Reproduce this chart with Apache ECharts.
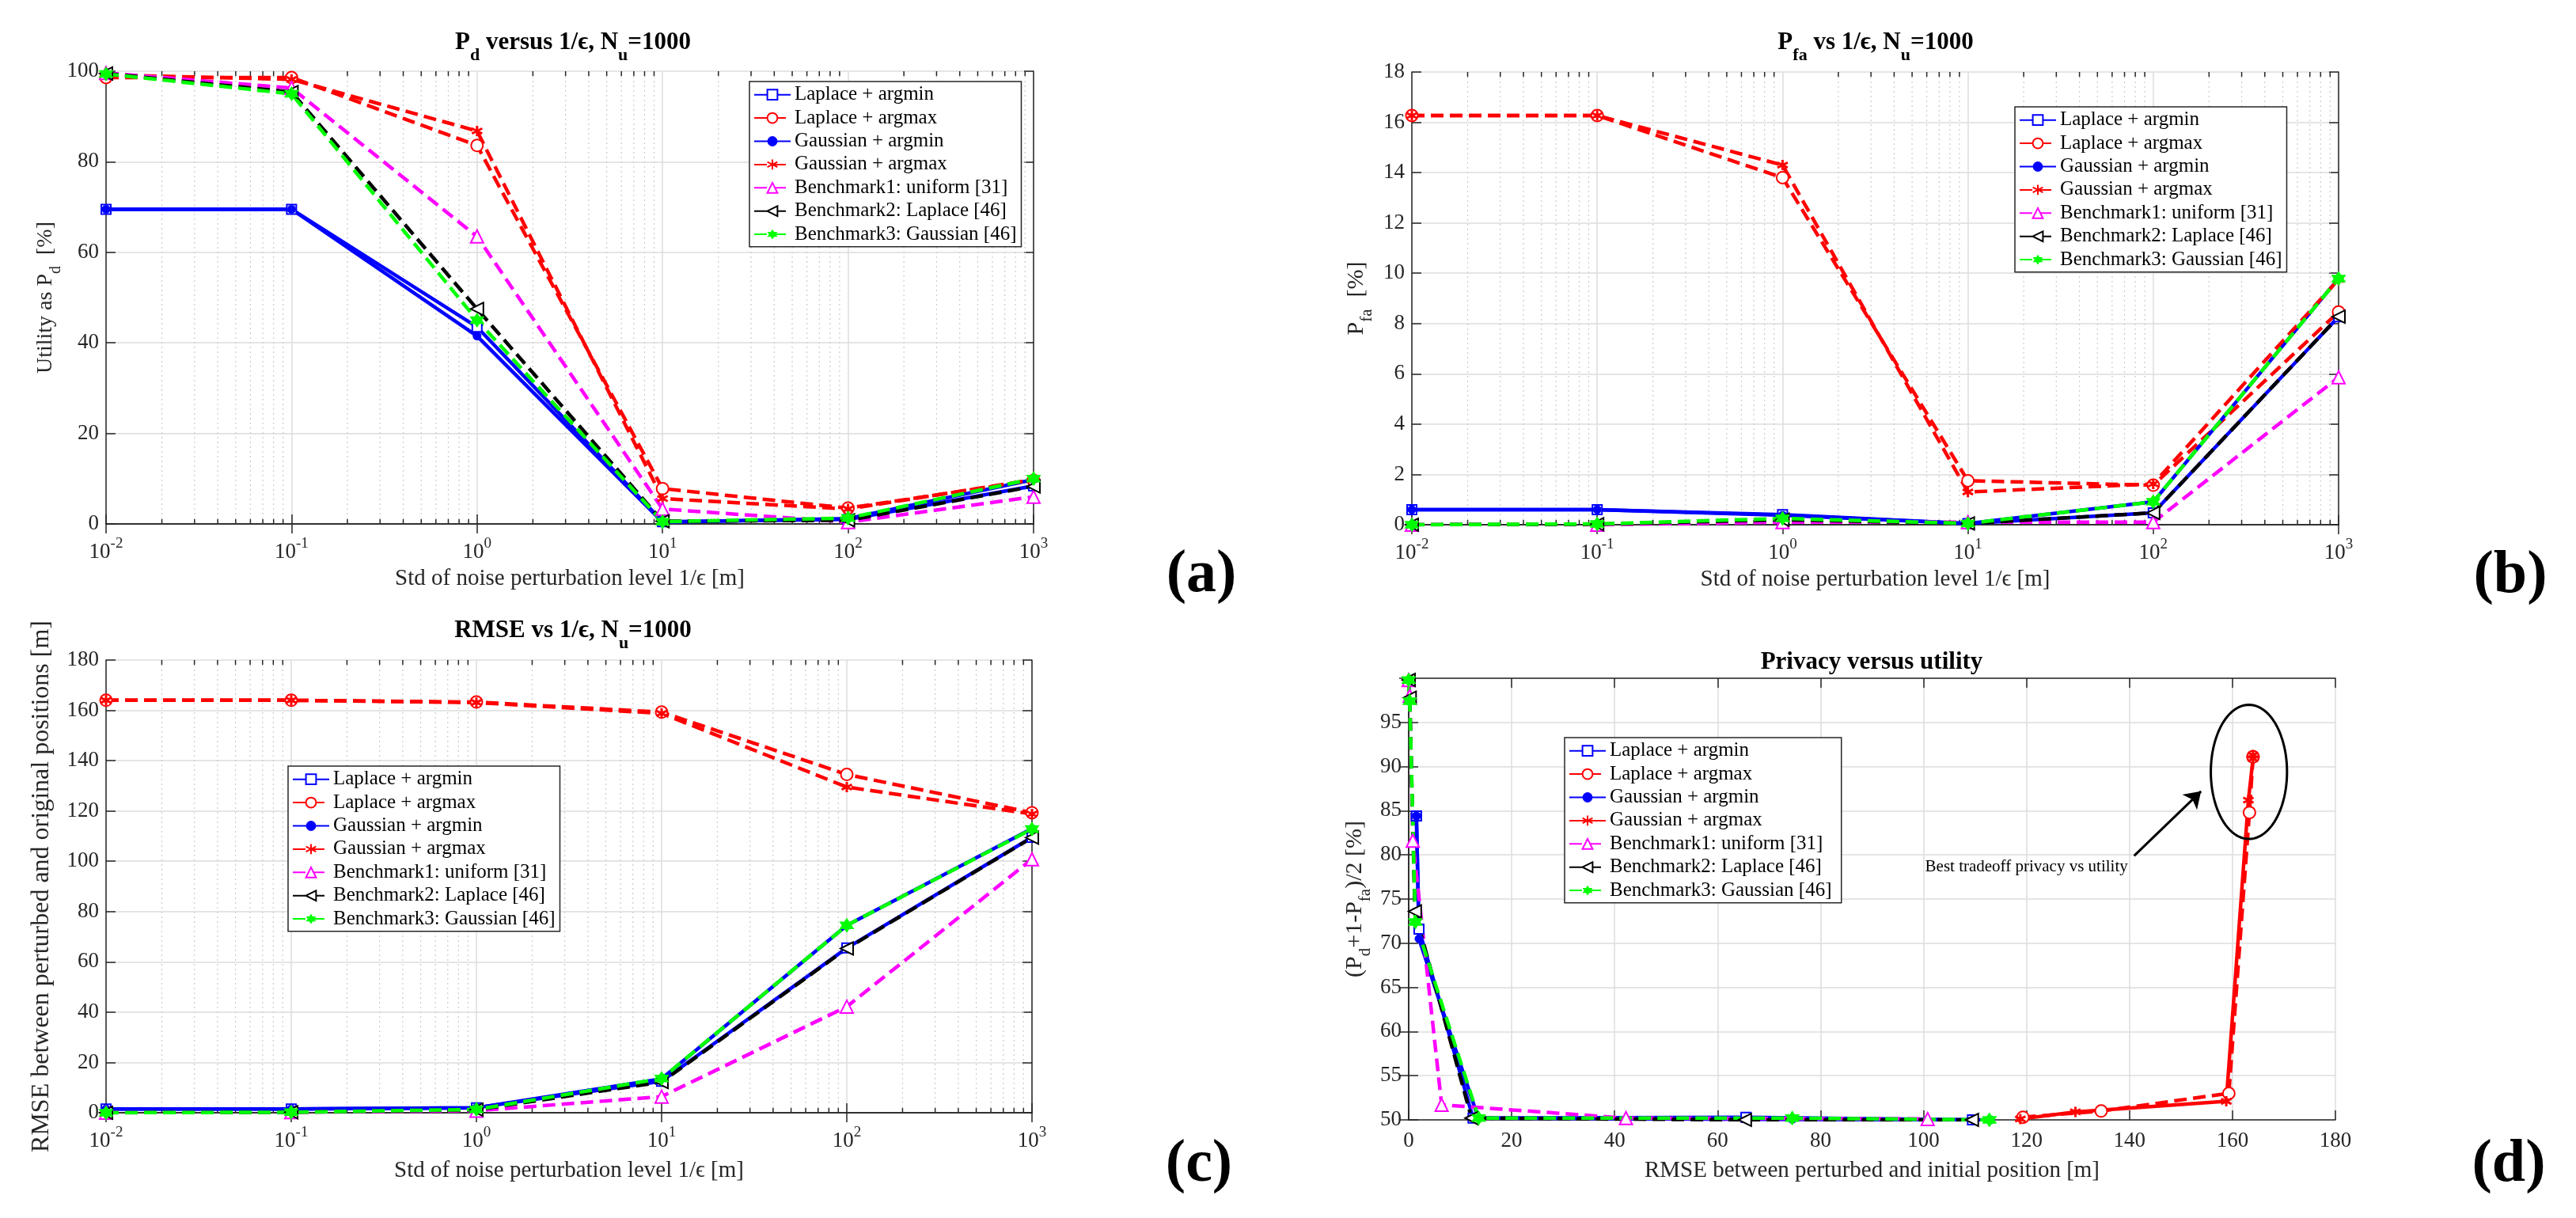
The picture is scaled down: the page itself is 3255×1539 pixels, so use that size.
<!DOCTYPE html>
<html>
<head>
<meta charset="utf-8">
<script src="https://cdn.jsdelivr.net/npm/echarts@6/dist/echarts.min.js"></script>
<style>
  html, body { margin: 0; padding: 0; background: #fff; }
  #chart { width: 3255px; height: 1539px; }
</style>
</head>
<body>
<div id="chart"></div>
<script>
// noise std levels 1/eps [m]
const noise = [0.01, 0.1, 1, 10, 100, 1000]
const names = [
  'Laplace + argmin', 'Laplace + argmax', 'Gaussian + argmin', 'Gaussian + argmax',
  'Benchmark1: uniform [31]', 'Benchmark2: Laplace [46]', 'Benchmark3: Gaussian [46]'
]

// (a) Pd [%]
const pdLapMin = [69.5, 69.5, 43.5, 0.5, 1.0, 8.4]
const pdLapMax = [98.6, 98.6, 83.6, 7.8, 3.5, 9.6]
const pdGauMin = [69.5, 69.5, 41.5, 0.4, 1.2, 9.8]
const pdGauMax = [99.2, 98.2, 86.8, 5.6, 3.3, 9.8]
const pdBm1 = [99.6, 96.3, 63.5, 3.3, 0.4, 6.0]
const pdBm2 = [99.5, 95.4, 47.5, 0.6, 0.8, 8.3]
const pdBm3 = [99.4, 95.0, 45.0, 0.5, 1.3, 10.0]

// (b) Pfa [%]
const pfaLapMin = [0.6, 0.6, 0.4, 0.05, 0.47, 8.27]
const pfaLapMax = [16.27, 16.27, 13.8, 1.75, 1.57, 8.46]
const pfaGauMin = [0.6, 0.6, 0.38, 0.05, 0.91, 9.79]
const pfaGauMax = [16.27, 16.27, 14.3, 1.3, 1.62, 9.75]
const pfaBm1 = [0, 0, 0.1, 0.1, 0.1, 5.86]
const pfaBm2 = [0, 0.02, 0.2, 0.05, 0.47, 8.27]
const pfaBm3 = [0, 0.03, 0.25, 0.05, 0.91, 9.79]

// (c) RMSE [m]
const rmseLapMin = [1.5, 1.5, 2.0, 12.5, 65.5, 109.5]
const rmseLapMax = [164, 164, 163.3, 159.3, 134.5, 119.3]
const rmseGauMin = [1.5, 1.5, 2.0, 13.5, 74.5, 113]
const rmseGauMax = [164, 164, 163.1, 158.8, 129.5, 118.8]
const rmseBm1 = [0, 0.2, 0.8, 6.4, 42.2, 100.8]
const rmseBm2 = [0, 0.2, 1.2, 12.2, 65.3, 109.4]
const rmseBm3 = [0, 0.2, 1.3, 13.6, 74.5, 112.8]

// (d) (Pd+1-Pfa)/2 [%], plotted against the RMSE values above
const utLapMin = [84.4, 84.4, 71.6, 50.2, 50.3, 50.0]
const utLapMax = [91.1, 91.1, 84.8, 53.0, 51.0, 50.3]
const utGauMin = [84.4, 84.4, 70.5, 50.2, 50.05, 50.0]
const utGauMax = [91.3, 90.9, 86.2, 52.1, 50.9, 50.1]
const utBm1 = [99.8, 98.0, 81.6, 51.7, 50.2, 50.1]
const utBm2 = [99.8, 97.8, 73.6, 50.2, 50.0, 50.0]
const utBm3 = [99.8, 97.4, 72.4, 50.2, 50.2, 50.0]

const decadeTicks = [0.01, 0.1, 1, 10, 100]

const FONT = 'Liberation Serif'
const INK = '#262626'
const ASTERISK = 'path://M0,-10L0,10M-8.66,-5L8.66,5M-8.66,5L8.66,-5'
const HEXAGRAM = 'path://M0,-10L8.66,5L-8.66,5ZM0,10L-8.66,-5L8.66,-5Z'
const DASH = [16, 8]

const looks = [
  { color: '#0000ff', dash: 'solid', symbol: 'emptyRect', size: 12 },
  { color: '#ff0000', dash: DASH, symbol: 'emptyCircle', size: 15 },
  { color: '#0000ff', dash: 'solid', symbol: 'circle', size: 11 },
  { color: '#ff0000', dash: DASH, symbol: ASTERISK, size: 13, stroke: true },
  { color: '#ff00ff', dash: DASH, symbol: 'emptyTriangle', size: 16 },
  { color: '#000000', dash: DASH, symbol: 'emptyTriangle', size: 16, rotate: 90 },
  { color: '#00ff00', dash: DASH, symbol: HEXAGRAM, size: 19 }
]

const grids = [
  { left: 134, top: 90, width: 1172, height: 572 },
  { left: 1784, top: 91, width: 1171, height: 572 },
  { left: 134, top: 834, width: 1170, height: 572 },
  { left: 1780, top: 857, width: 1171, height: 558 }
]

const pair = (xs, ys) => xs.map((x, i) => [x, ys[i]])

function lineSeries(p, k, xs, ys, nameSuffix, dashOverride) {
  const lk = looks[k]
  return {
    type: 'line',
    name: names[k] + (nameSuffix || ''),
    xAxisIndex: 2 * p,
    yAxisIndex: 2 * p,
    data: pair(xs, ys),
    symbol: lk.symbol,
    symbolSize: lk.size,
    symbolRotate: lk.rotate || 0,
    showSymbol: true,
    lineStyle: { color: lk.color, width: 4.5, type: dashOverride || lk.dash },
    itemStyle: {
      color: lk.color,
      borderColor: lk.color,
      borderWidth: (lk.stroke || lk.symbol.indexOf('empty') === 0) ? 3 : 0
    },
    z: 3
  }
}

const axisLineStyle = { color: INK, width: 1.5 }

function logAxes(p, nameGap) {
  return [
    {
      type: 'log', logBase: 10, min: 0.01, max: 1000, gridIndex: p, position: 'bottom',
      axisLine: { lineStyle: axisLineStyle },
      axisTick: { inside: true, length: 12, lineStyle: axisLineStyle },
      splitLine: { show: true, lineStyle: { color: '#dcdcdc', width: 1.5 } },
      axisLabel: {
        margin: 16,
        formatter: v => '{b|10}{s|' + Math.round(Math.log10(v)) + '}',
        rich: {
          b: { fontFamily: FONT, fontSize: 27, color: INK, verticalAlign: 'bottom' },
          s: { fontFamily: FONT, fontSize: 19, color: INK, verticalAlign: 'bottom', padding: [0, 0, 14, 0] }
        }
      },
      name: 'Std of noise perturbation level 1/ϵ [m]',
      nameLocation: 'middle', nameGap: nameGap,
      nameTextStyle: { fontFamily: FONT, fontSize: 29, color: INK }
    },
    {
      type: 'log', logBase: 10, min: 0.01, max: 1000, gridIndex: p, position: 'top',
      axisLine: { lineStyle: axisLineStyle },
      axisTick: { inside: true, length: 12, lineStyle: axisLineStyle },
      axisLabel: { show: false }, splitLine: { show: false }
    }
  ]
}

function valueYAxes(p, min, max, interval, name, nameGap, nameSize, hideMax) {
  return [
    {
      type: 'value', min: min, max: max, interval: interval, gridIndex: p, position: 'left',
      axisLine: { show: true, lineStyle: axisLineStyle },
      axisTick: { show: true, inside: true, length: 12, lineStyle: axisLineStyle },
      splitLine: { show: true, lineStyle: { color: '#dcdcdc', width: 1.5 } },
      axisLabel: { margin: 9, fontFamily: FONT, fontSize: 27, color: INK, showMaxLabel: !hideMax },
      name: name, nameLocation: 'middle', nameRotate: 90, nameGap: nameGap,
      nameTextStyle: {
        fontFamily: FONT, fontSize: nameSize, color: INK,
        rich: {
          m: { fontFamily: FONT, fontSize: nameSize, color: INK, verticalAlign: 'bottom', padding: [0, 0, 9, 0] },
          sub: { fontFamily: FONT, fontSize: Math.round(nameSize * 0.7), color: INK, verticalAlign: 'bottom' }
        }
      }
    },
    {
      type: 'value', min: min, max: max, interval: interval, gridIndex: p, position: 'right',
      axisLine: { show: true, lineStyle: axisLineStyle },
      axisTick: { show: true, inside: true, length: 12, lineStyle: axisLineStyle },
      axisLabel: { show: false }, splitLine: { show: false }
    }
  ]
}

// minor decades grid (2..9 x 10^k) drawn through the log axis
const minorVals = []
decadeTicks.forEach(d => { for (let k = 2; k <= 9; k++) minorVals.push(d * k) })

function minorSeries(p, yBase) {
  return {
    type: 'custom',
    xAxisIndex: 2 * p, yAxisIndex: 2 * p,
    silent: true, z: 1,
    data: minorVals.map(v => [v, yBase]),
    renderItem: (params, api) => {
      const x = api.coord([api.value(0), api.value(1)])[0]
      const cs = params.coordSys
      const b = cs.y + cs.height
      return {
        type: 'group',
        children: [
          { type: 'line', shape: { x1: x, y1: cs.y, x2: x, y2: b }, style: { stroke: '#cccccc', lineWidth: 1.2, lineDash: [2, 4] } },
          { type: 'line', shape: { x1: x, y1: b, x2: x, y2: b - 6 }, style: { stroke: INK, lineWidth: 1.5 } },
          { type: 'line', shape: { x1: x, y1: cs.y, x2: x, y2: cs.y + 6 }, style: { stroke: INK, lineWidth: 1.5 } }
        ]
      }
    }
  }
}

function legendAt(left, top, suffix) {
  return {
    orient: 'vertical', left: left, top: top,
    data: names.map(n => n + (suffix || '')),
    itemWidth: 46, itemHeight: 16, itemGap: 4,
    padding: [4, 6, 3, 5],
    borderColor: INK, borderWidth: 1.5, backgroundColor: '#ffffff',
    textStyle: { fontFamily: FONT, fontSize: 25, color: '#000', lineHeight: 25.4 },
    selectedMode: false
  }
}

const titleRich = {
  t: { fontFamily: FONT, fontSize: 31, fontWeight: 'bold', color: '#000', verticalAlign: 'bottom', padding: [0, 0, 12, 0] },
  ts: { fontFamily: FONT, fontSize: 22, fontWeight: 'bold', color: '#000', verticalAlign: 'bottom' }
}
function titleAt(text, cx, top) {
  return { text: text, left: cx, top: top, textAlign: 'center', textStyle: { rich: titleRich }, padding: 0 }
}

const series = []
const pdSets = [pdLapMin, pdLapMax, pdGauMin, pdGauMax, pdBm1, pdBm2, pdBm3]
const pfaSets = [pfaLapMin, pfaLapMax, pfaGauMin, pfaGauMax, pfaBm1, pfaBm2, pfaBm3]
const rmseSets = [rmseLapMin, rmseLapMax, rmseGauMin, rmseGauMax, rmseBm1, rmseBm2, rmseBm3]
const utSets = [utLapMin, utLapMax, utGauMin, utGauMax, utBm1, utBm2, utBm3]

series.push(minorSeries(0, 0), minorSeries(1, 0), minorSeries(2, 0))
pdSets.forEach((ys, k) => series.push(lineSeries(0, k, noise, ys)))
pfaSets.forEach((ys, k) => series.push(lineSeries(1, k, noise, ys)))
rmseSets.forEach((ys, k) => series.push(lineSeries(2, k, noise, ys)))
// in (d) the Gaussian + argmax curve is solid
utSets.forEach((ys, k) => series.push(lineSeries(3, k, rmseSets[k], ys, ' ', k === 3 ? 'solid' : null)))

const gaussMaxD = series[series.length - 4]
gaussMaxD.markLine = {
  silent: true, animation: false,
  symbol: ['none', 'arrow'], symbolSize: 20,
  lineStyle: { color: '#000', width: 3, type: 'solid' },
  label: { show: false },
  data: [[{ coord: [140.9, 79.9] }, { coord: [153.9, 87.2] }]]
}

const linAxesD = [
  {
    type: 'value', min: 0, max: 180, interval: 20, gridIndex: 3, position: 'bottom',
    axisLine: { lineStyle: axisLineStyle },
    axisTick: { inside: true, length: 12, lineStyle: axisLineStyle },
    splitLine: { show: true, lineStyle: { color: '#dcdcdc', width: 1.5 } },
    axisLabel: { margin: 13, fontFamily: FONT, fontSize: 27, color: INK },
    name: 'RMSE between perturbed and initial position [m]',
    nameLocation: 'middle', nameGap: 50,
    nameTextStyle: { fontFamily: FONT, fontSize: 29, color: INK }
  },
  {
    type: 'value', min: 0, max: 180, interval: 20, gridIndex: 3, position: 'top',
    axisLine: { lineStyle: axisLineStyle },
    axisTick: { inside: true, length: 12, lineStyle: axisLineStyle },
    axisLabel: { show: false }, splitLine: { show: false }
  }
]

const option = {
  animation: false,
  backgroundColor: '#ffffff',
  grid: grids,
  title: [
    titleAt('{t|P}{ts|d}{t| versus 1/ϵ, N}{ts|u}{t|=1000}', 724, 38),
    titleAt('{t|P}{ts|fa}{t| vs 1/ϵ, N}{ts|u}{t|=1000}', 2370, 38),
    titleAt('{t|RMSE vs 1/ϵ, N}{ts|u}{t|=1000}', 724, 781),
    { text: 'Privacy versus utility', left: 2365, top: 821, textAlign: 'center', padding: 0,
      textStyle: { fontFamily: FONT, fontSize: 31, fontWeight: 'bold', color: '#000' } }
  ],
  legend: [
    legendAt(947, 103),
    legendAt(2546, 135),
    legendAt(364, 968),
    legendAt(1977, 932, ' ')
  ],
  xAxis: [].concat(logAxes(0, 55), logAxes(1, 55), logAxes(2, 59), linAxesD),
  yAxis: [].concat(
    valueYAxes(0, 0, 100, 20, '{m|Utility as P}{sub|d}{m|  [%]}', 52, 28),
    valueYAxes(1, 0, 18, 2, '{m|P}{sub|fa}{m|  [%]}', 46, 30),
    valueYAxes(2, 0, 180, 20, '{m|RMSE between perturbed and original positions [m]}', 56, 32),
    valueYAxes(3, 50, 100, 5, '{m|(P}{sub|d}{m|+1-P}{sub|fa}{m|)/2 [%]}', 44, 30, true)
  ),
  series: series
}

const chart = echarts.init(document.getElementById('chart'), null, { renderer: 'canvas' })
chart.setOption(option)

// annotation in (d): ellipse around best tradeoff, caption text
const toPx = v => chart.convertToPixel({ gridIndex: 3 }, v)
const c = toPx([163.2, 89.4])
const rx = toPx([170.6, 89.4])[0] - c[0]
const ry = c[1] - toPx([163.2, 97.0])[1]
const ellipsePts = []
for (let i = 0; i < 96; i++) {
  const a = i / 96 * Math.PI * 2
  ellipsePts.push([c[0] + rx * Math.cos(a), c[1] + ry * Math.sin(a)])
}
const cap = toPx([120, 78.6])

const letter = (txt, x, y) => ({
  type: 'text', x: x, y: y,
  style: { text: txt, font: 'bold 76px "Liberation Serif"', fill: '#000', textAlign: 'center', textVerticalAlign: 'middle' }
})

chart.setOption({
  graphic: [
    { type: 'polygon', shape: { points: ellipsePts }, style: { fill: 'none', stroke: '#000', lineWidth: 3 }, z: 10 },
    { type: 'text', x: cap[0], y: cap[1], style: { text: 'Best tradeoff privacy vs utility', font: '21px "Liberation Serif"', fill: '#000', textAlign: 'center', textVerticalAlign: 'middle' }, z: 10 },
    letter('(a)', 1518, 727),
    letter('(b)', 3172, 728),
    letter('(c)', 1515, 1472),
    letter('(d)', 3170, 1472)
  ]
})
</script>
</body>
</html>
